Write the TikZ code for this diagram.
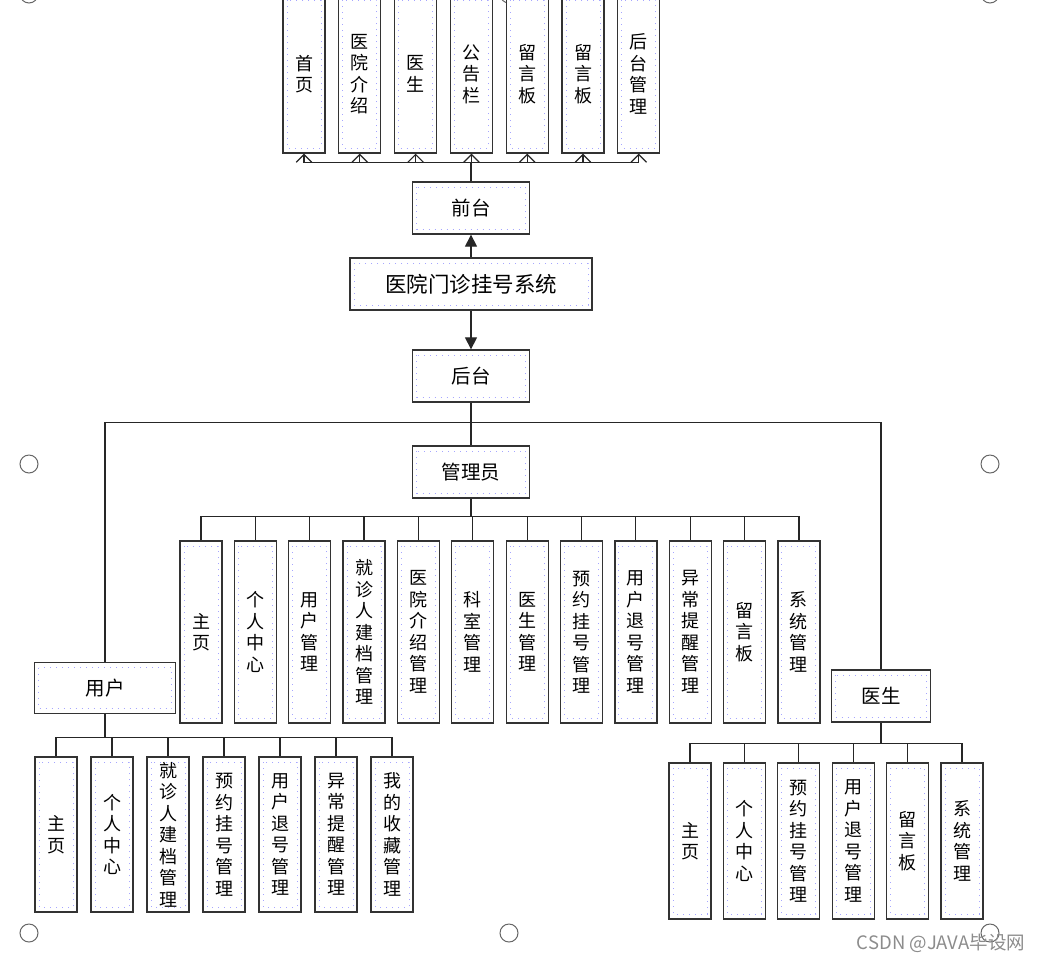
\documentclass[tikz,border=0pt]{standalone}
\usepackage{fontspec}
\setmainfont{Noto Sans CJK SC}
\usetikzlibrary{arrows.meta, calc}

\tikzset{
  box/.style={draw=black!80, line width=1.3pt, fill=white, inner sep=0pt, align=center,
    path picture={\draw[blue!35, dash pattern=on 1pt off 5pt, line width=1pt]
      ([shift={(4pt,-5pt)}]path picture bounding box.north west) rectangle
      ([shift={(-4pt,5pt)}]path picture bounding box.south east);}},
  vbox/.style={box, minimum width=42pt, font=\fontsize{18}{21.5}\selectfont},
  hbox/.style={box, minimum height=52pt, font=\fontsize{19.5}{21}\selectfont},
  link/.style={draw=black!85, line width=1.2pt},
  handle/.style={draw=black!60, line width=1pt},
}

\begin{document}
\begin{tikzpicture}[x=1pt, y=-1pt]
\useasboundingbox (0,0) rectangle (1038,962);

% selection handles
\foreach \hx/\hy in {29/-6, 509/-6, 990/-6, 29/464, 990/464, 29/933, 509/933, 990/933}
  \draw[handle] (\hx,\hy) circle[radius=9pt];

% main nodes
\node[hbox, minimum width=242pt, font=\fontsize{21.5}{23}\selectfont] (sys) at (471,284) {医院门诊挂号系统};
\node[hbox, minimum width=117pt] (qt) at (471,208) {前台};
\node[hbox, minimum width=117pt] (ht) at (471,376) {后台};
\node[hbox, minimum width=117pt] (gly) at (471,472) {管理员};
\node[hbox, minimum width=141pt, minimum height=51pt] (yh) at (105,688) {用户};
\node[hbox, minimum width=99pt] (ys) at (881,696) {医生};

% front pages
\foreach \t [count=\i] in {{首\\页},{医\\院\\介\\绍},{医\\生},{公\\告\\栏},{留\\言\\板},{留\\言\\板},{后\\台\\管\\理}}
  \node[vbox, minimum height=158pt] (qd\i) at ({304+55.8*(\i-1)},74) {\t};

% admin pages
\foreach \t [count=\i] in {{主\\页},{个\\人\\中\\心},{用\\户\\管\\理},{就\\诊\\人\\建\\档\\管\\理},{医\\院\\介\\绍\\管\\理},{科\\室\\管\\理},{医\\生\\管\\理},{预\\约\\挂\\号\\管\\理},{用\\户\\退\\号\\管\\理},{异\\常\\提\\醒\\管\\理},{留\\言\\板},{系\\统\\管\\理}}
  \node[vbox, minimum height=182pt] (gl\i) at ({201+54.36*(\i-1)},632) {\t};

% user pages
\foreach \t [count=\i] in {{主\\页},{个\\人\\中\\心},{就\\诊\\人\\建\\档\\管\\理},{预\\约\\挂\\号\\管\\理},{用\\户\\退\\号\\管\\理},{异\\常\\提\\醒\\管\\理},{我\\的\\收\\藏\\管\\理}}
  \node[vbox, minimum height=155pt] (yh\i) at ({56+56*(\i-1)},834.5) {\t};

% doctor pages
\foreach \t [count=\i] in {{主\\页},{个\\人\\中\\心},{预\\约\\挂\\号\\管\\理},{用\\户\\退\\号\\管\\理},{留\\言\\板},{系\\统\\管\\理}}
  \node[vbox, minimum height=156pt] (ys\i) at ({690+54.4*(\i-1)},841) {\t};

% connectors
\draw[link, -{Triangle[length=12pt, width=12pt]}] (sys.north) -- (qt.south);
\draw[link, -{Triangle[length=12pt, width=12pt]}] (sys.south) -- (ht.north);
\foreach \i in {1,...,7}
  \draw[link, -{Straight Barb[scale=2]}] (qt.north) -- ++(0,-19) -| (qd\i.south);

\draw[link] (ht.south) -- (gly.north);
\draw[link] (ht.south) -- ++(0,20) -| (yh.north);
\draw[link] (ht.south) -- ++(0,20) -| (ys.north);

\foreach \i in {1,...,12}
  \draw[link] (gl\i.north) -- ++(0,-24) -| (gly.south);
\foreach \i in {1,...,7}
  \draw[link] (yh\i.north) -- ++(0,-19) -| (yh.south);
\foreach \i in {1,...,6}
  \draw[link] (ys\i.north) -- ++(0,-19) -| (ys.south);

% watermark
\node[text=black!45, font=\fontsize{18.5}{20}\selectfont] (mark) at (941,943) {CSDN @JAVA毕设网};
\end{tikzpicture}
\end{document}
